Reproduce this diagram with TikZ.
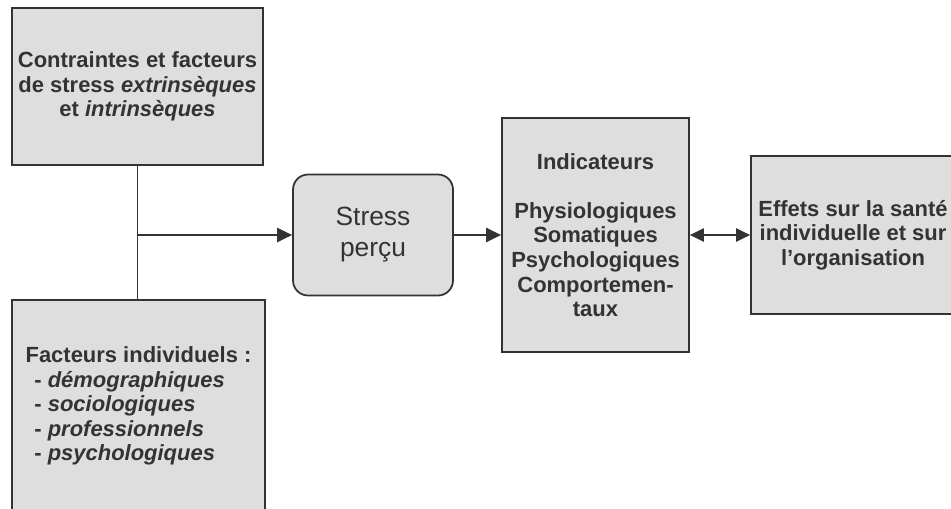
\documentclass[tikz,border=0pt]{standalone}
\usepackage{fontspec}
\setmainfont{Liberation Sans}
\usetikzlibrary{arrows.meta}

\begin{document}
\begin{tikzpicture}[x=0.02cm, y=-0.02cm,
		boite/.style={draw=black!80, line width=1pt, fill=black!13, text=black!80,
			font=\fontsize{12.5}{14}\selectfont\bfseries, align=center, inner sep=0pt},
		fleche/.style={draw=black!80, line width=1pt, -{Triangle[length=8.5pt,width=8pt]}},
		doublefleche/.style={draw=black!80, line width=1pt, {Triangle[length=8pt,width=7.5pt]}-{Triangle[length=8pt,width=7.5pt]}}]
				\clip (0,0) rectangle (951,508);
				% les boites
				\node[boite, minimum width=5.02cm, minimum height=3.14cm] (contr) at (137.5,86.5)
					{Contraintes et facteurs\\de stress \textit{extrinsèques}\\et \textit{intrinsèques}};
				\node[boite, minimum width=5.06cm, minimum height=4.24cm, align=left] (indiv) at (138.5,406)
					{Facteurs individuels :\\
					\hspace*{0.4em}- \textit{démographiques}\\
					\hspace*{0.4em}- \textit{sociologiques}\\
					\hspace*{0.4em}- \textit{professionnels}\\
					\hspace*{0.4em}- \textit{psychologiques}};
				\node[boite, rounded corners=0.3cm, minimum width=3.2cm, minimum height=2.42cm,
					font=\fontsize{15}{17.6}\selectfont] (stress) at (373,235) {Stress\\perçu};
				\node[boite, minimum width=3.74cm, minimum height=4.68cm] (indic) at (595.5,235)
					{Indicateurs\\[14pt]Physiologiques\\Somatiques\\Psychologiques\\Comportemen-\\taux};
				\node[boite, minimum width=4.08cm, minimum height=3.16cm] (effets) at (853,235)
					{Effets sur la santé\\individuelle et sur\\l’organisation};
				% les liens
				\coordinate (jonction) at (contr.south |- stress.west);
				\draw[draw=black!80, line width=1pt] (contr.south) -- (contr.south |- indiv.north);
				\draw[fleche] (jonction) -- (stress.west);
				\draw[fleche] (stress.east) -- (indic.west);
				\draw[doublefleche] (indic.east) -- (effets.west);
			\end{tikzpicture}
\end{document}
